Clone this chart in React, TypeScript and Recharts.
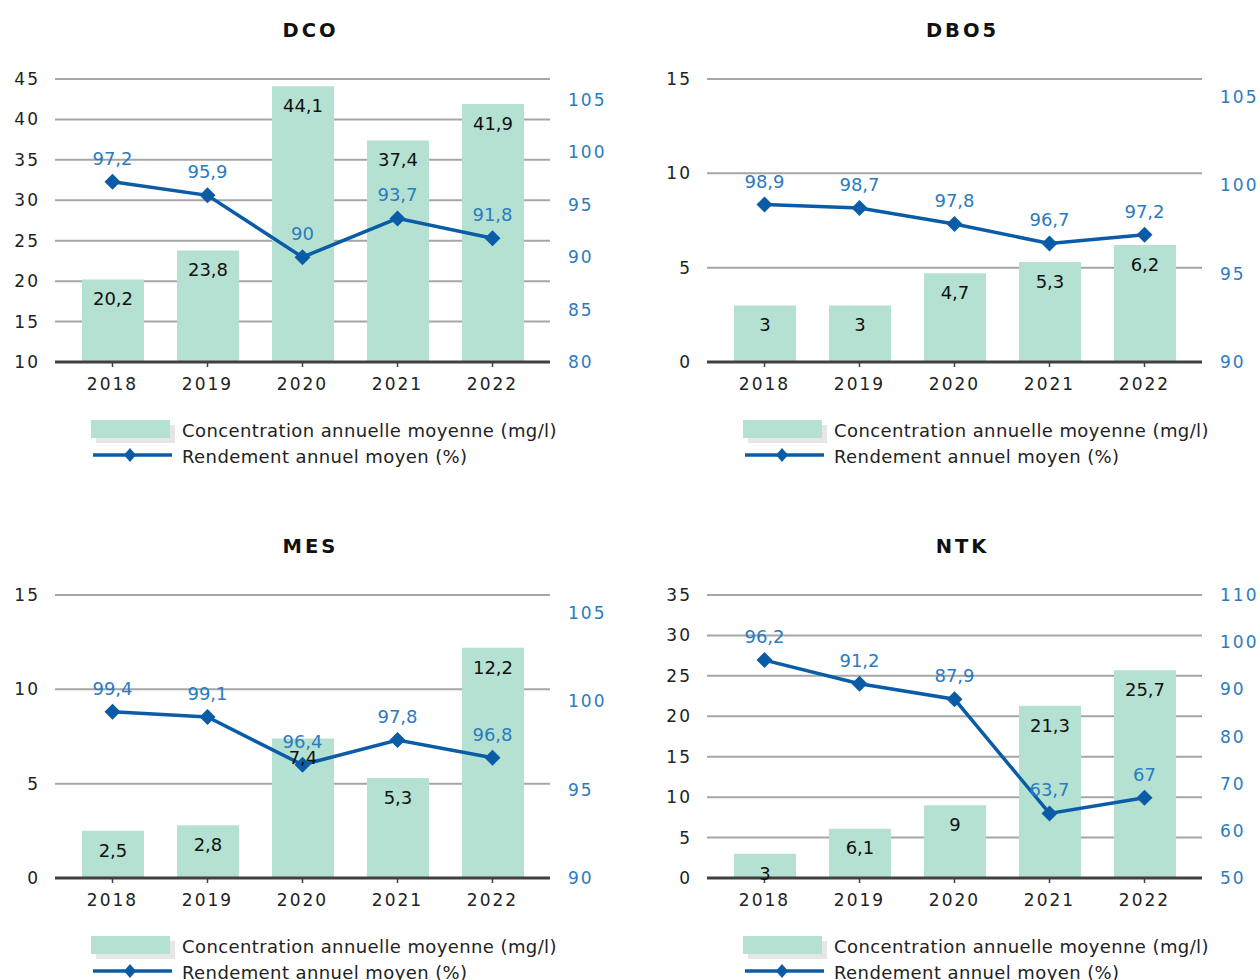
import React from 'react'
import {
  ComposedChart,
  Bar,
  Line,
  XAxis,
  YAxis,
  CartesianGrid,
  LabelList,
} from 'recharts'

const years = ['2018', '2019', '2020', '2021', '2022']

const dcoConcentration = [20.2, 23.8, 44.1, 37.4, 41.9]
const dcoRendement = [97.2, 95.9, 90, 93.7, 91.8]
const dbo5Concentration = [3, 3, 4.7, 5.3, 6.2]
const dbo5Rendement = [98.9, 98.7, 97.8, 96.7, 97.2]
const mesConcentration = [2.5, 2.8, 7.4, 5.3, 12.2]
const mesRendement = [99.4, 99.1, 96.4, 97.8, 96.8]
const ntkConcentration = [3, 6.1, 9, 21.3, 25.7]
const ntkRendement = [96.2, 91.2, 87.9, 63.7, 67]

const dcoLeftTicks = [10, 15, 20, 25, 30, 35, 40, 45]
const dcoRightTicks = [80, 85, 90, 95, 100, 105]
const smallLeftTicks = [0, 5, 10, 15]
const smallRightTicks = [90, 95, 100, 105]
const ntkLeftTicks = [0, 5, 10, 15, 20, 25, 30, 35]
const ntkRightTicks = [50, 60, 70, 80, 90, 100, 110]

const BAR_COLOR = '#b5e1d3'
const LINE_COLOR = '#0b5ca6'
const BLUE_TEXT = '#2b7bbf'
const FONT = '"DejaVu Sans", Verdana, sans-serif'

const fmt = (v: any) => String(v).replace('.', ',')

const Diamond = (props: any) => {
  const { cx, cy, index } = props
  if (cx == null || cy == null) return <g key={index} />
  const r = 8
  return (
    <path
      key={index}
      d={`M${cx},${cy - r} L${cx + r},${cy} L${cx},${cy + r} L${cx - r},${cy} Z`}
      fill={LINE_COLOR}
    />
  )
}

interface PanelProps {
  title: string
  left: number
  top: number
  concentration: number[]
  rendement: number[]
  leftDomain: [number, number]
  leftTicks: number[]
  rightDomain: [number, number]
  rightTicks: number[]
}

function Panel({ title, left, top, concentration, rendement, leftDomain, leftTicks, rightDomain, rightTicks }: PanelProps) {
  const data = years.map((y, i) => ({ year: y, concentration: concentration[i], rendement: rendement[i] }))

  return (
    <div style={{ position: 'absolute', left, top, width: 640, height: 500 }}>
      <div
        style={{
          position: 'absolute', left: 0, top: 19, width: 621, textAlign: 'center',
          fontFamily: FONT, fontWeight: 'bold', fontSize: 19.5, letterSpacing: 3, color: '#111',
        }}
      >
        {title}
      </div>

      <div style={{ position: 'absolute', left: 0, top: 50 }}>
        <ComposedChart width={640} height={360} data={data} margin={{ top: 29, right: 10, bottom: 8, left: 0 }}>
          <CartesianGrid yAxisId="left" vertical={false} stroke="#a6a6a6" strokeWidth={2} />
          <XAxis
            dataKey="year"
            padding={{ left: 10, right: 10 }}
            height={40}
            axisLine={{ stroke: '#404040', strokeWidth: 3 }}
            tickLine={{ stroke: '#404040', strokeWidth: 1.5 }}
            tickSize={5}
            tickMargin={11}
            tick={{ fill: '#222', fontSize: 17, fontFamily: FONT, letterSpacing: 2 }}
          />
          <YAxis
            yAxisId="left"
            width={55}
            domain={leftDomain}
            ticks={leftTicks}
            interval={0}
            axisLine={false}
            tickLine={false}
            tickSize={0}
            tickMargin={15}
            tick={{ fill: '#222', fontSize: 17, fontFamily: FONT, letterSpacing: 2 }}
          />
          <YAxis
            yAxisId="right"
            orientation="right"
            width={80}
            domain={rightDomain}
            ticks={rightTicks}
            interval={0}
            allowDataOverflow
            axisLine={false}
            tickLine={false}
            tickSize={0}
            tickMargin={18}
            tick={{ fill: BLUE_TEXT, fontSize: 17, fontFamily: FONT, letterSpacing: 2 }}
          />
          <Bar yAxisId="left" dataKey="concentration" fill={BAR_COLOR} barSize={62} isAnimationActive={false}>
            <LabelList
              dataKey="concentration"
              position="insideTop"
              offset={13}
              formatter={fmt}
              fill="#111"
              fontSize={18}
              fontFamily={FONT}
            />
          </Bar>
          <Line
            yAxisId="right"
            dataKey="rendement"
            stroke={LINE_COLOR}
            strokeWidth={3.5}
            dot={Diamond}
            activeDot={false}
            isAnimationActive={false}
          >
            <LabelList
              dataKey="rendement"
              position="top"
              offset={17}
              formatter={fmt}
              fill={BLUE_TEXT}
              fontSize={18}
              fontFamily={FONT}
            />
          </Line>
        </ComposedChart>
      </div>

      {/* legend */}
      <div style={{ position: 'absolute', left: 91, top: 418, fontFamily: FONT, fontSize: 18, color: '#222', letterSpacing: 0.4 }}>
        <svg width={90} height={50} style={{ position: 'absolute', left: 0, top: 0 }}>
          <rect x={5} y={7} width={79} height={18} fill="#e6e6e6" />
          <rect x={0} y={2} width={79} height={18} fill={BAR_COLOR} />
          <line x1={2} x2={81} y1={37} y2={37} stroke={LINE_COLOR} strokeWidth={3.5} />
          <path d="M39,30 L45,37 L39,44 L33,37 Z" fill={LINE_COLOR} />
        </svg>
        <div style={{ position: 'absolute', left: 91, top: 0, whiteSpace: 'nowrap', lineHeight: '26px' }}>
          Concentration annuelle moyenne (mg/l)
        </div>
        <div style={{ position: 'absolute', left: 91, top: 26, whiteSpace: 'nowrap', lineHeight: '26px' }}>
          Rendement annuel moyen (%)
        </div>
      </div>
    </div>
  )
}

export default function App() {
  return (
    <div style={{ position: 'absolute', left: 0, top: 0, width: 1260, height: 980, background: '#fff', overflow: 'hidden' }}>
      <Panel
        title="DCO" left={0} top={0}
        concentration={dcoConcentration} rendement={dcoRendement}
        leftDomain={[10, 45]} leftTicks={dcoLeftTicks}
        rightDomain={[80, 107]} rightTicks={dcoRightTicks}
      />
      <Panel
        title="DBO5" left={652} top={0}
        concentration={dbo5Concentration} rendement={dbo5Rendement}
        leftDomain={[0, 15]} leftTicks={smallLeftTicks}
        rightDomain={[90, 106]} rightTicks={smallRightTicks}
      />
      <Panel
        title="MES" left={0} top={516}
        concentration={mesConcentration} rendement={mesRendement}
        leftDomain={[0, 15]} leftTicks={smallLeftTicks}
        rightDomain={[90, 106]} rightTicks={smallRightTicks}
      />
      <Panel
        title="NTK" left={652} top={516}
        concentration={ntkConcentration} rendement={ntkRendement}
        leftDomain={[0, 35]} leftTicks={ntkLeftTicks}
        rightDomain={[50, 110]} rightTicks={ntkRightTicks}
      />
    </div>
  )
}
